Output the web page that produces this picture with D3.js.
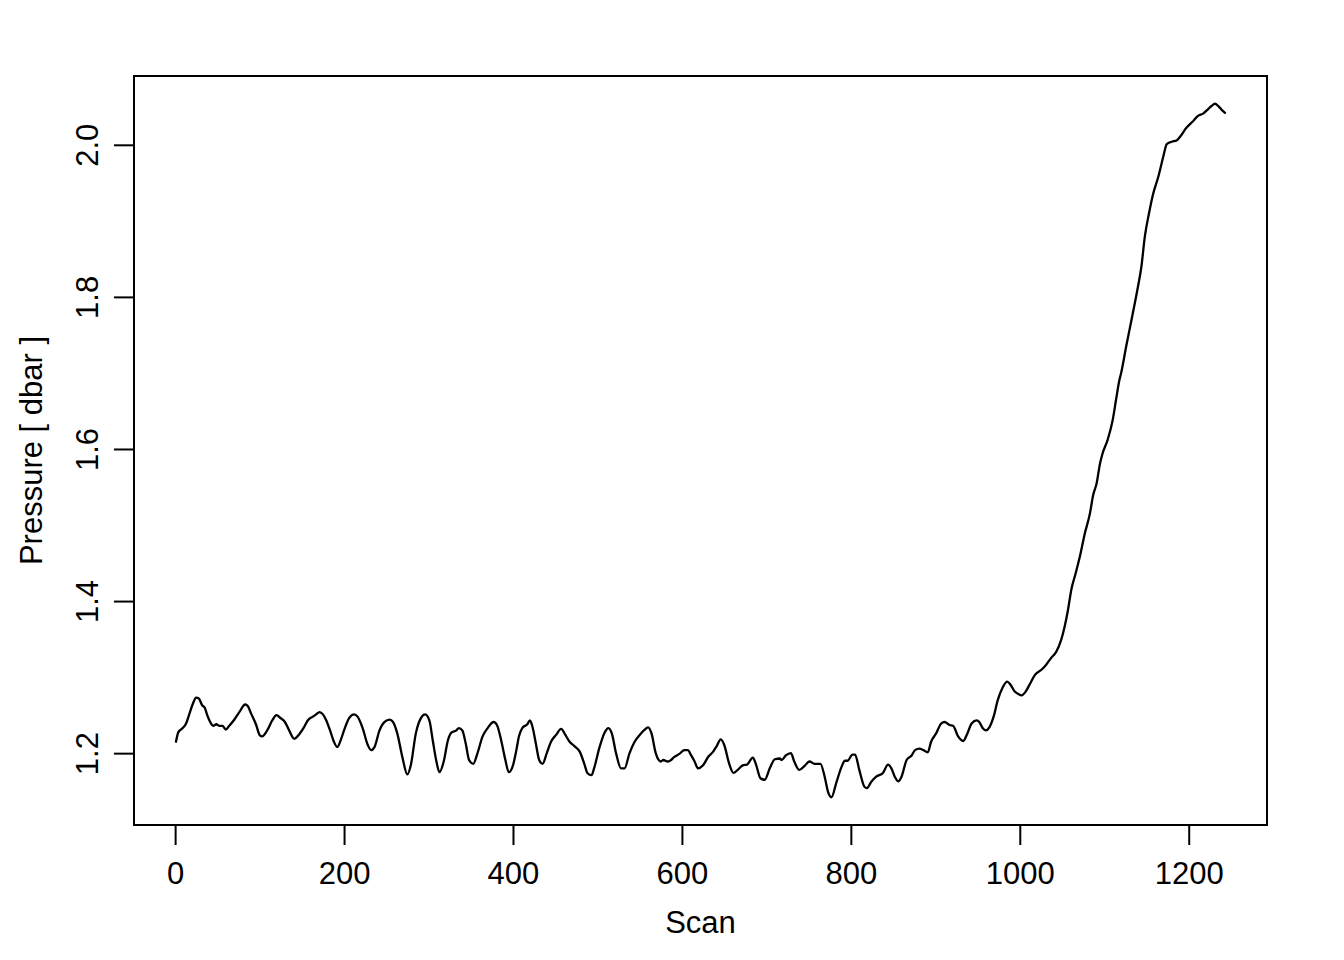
<!DOCTYPE html>
<html>
<head>
<meta charset="utf-8">
<script src="https://cdn.jsdelivr.net/npm/d3@7"></script>
<style>
  html, body { margin: 0; padding: 0; background: #fff; }
  svg { display: block; }
  text { font-family: "Liberation Sans", Arial, Helvetica, sans-serif; fill: #000; }
</style>
</head>
<body>
<svg id="chart" width="1344" height="960"></svg>
<script>
// ---- data ----
const scans = [
  1, 4, 9, 13, 17, 21, 25, 28, 32, 35, 38, 42, 45, 49, 52, 56, 60, 64, 70, 76,
  83, 86, 90, 96, 100, 103, 109, 115, 120, 125, 130, 135, 141, 147, 153, 157, 163, 167, 171, 175,
  179, 184, 188, 192, 196, 200, 206, 212, 216, 222, 228, 232, 236, 242, 248, 254, 258, 263, 269, 275,
  279, 285, 291, 296, 301, 305, 309, 313, 318, 323, 327, 333, 336, 340, 344, 348, 353, 358, 364, 370,
  377, 381, 386, 391, 395, 400, 404, 407, 411, 417, 420, 423, 427, 431, 435, 440, 445, 451, 457, 462,
  467, 473, 479, 485, 488, 493, 496, 502, 508, 513, 517, 522, 528, 532, 538, 544, 550, 556, 560, 564,
  569, 575, 578, 583, 586, 591, 597, 603, 607, 611, 615, 619, 625, 631, 637, 641, 646, 650, 656, 661,
  666, 672, 677, 684, 688, 693, 698, 704, 710, 716, 718, 723, 729, 733, 739, 745, 751, 757, 764, 769,
  773, 777, 783, 789, 793, 796, 802, 805, 810, 816, 819, 824, 830, 838, 844, 848, 852, 856, 860, 866,
  872, 876, 881, 886, 891, 895, 901, 907, 911, 917, 921, 927, 933, 938, 943, 949, 952, 956, 960, 964,
  969, 974, 980, 985, 989, 994, 998, 1002, 1007, 1012, 1018, 1026, 1031, 1037, 1043, 1049, 1053, 1057, 1061, 1066,
  1071, 1077, 1083, 1087, 1091, 1095, 1098, 1104, 1110, 1114, 1118, 1120, 1126, 1133, 1140, 1144, 1148, 1153, 1158, 1164,
  1170, 1174, 1180, 1186, 1190, 1197, 1205, 1211, 1217, 1223, 1227, 1231, 1235, 1239, 1243
];
const pressure = [
  1.215, 1.228, 1.233, 1.239, 1.252, 1.265, 1.273, 1.272, 1.263, 1.260, 1.250, 1.240, 1.236, 1.238, 1.236, 1.236, 1.231, 1.236, 1.244, 1.254,
  1.264, 1.262, 1.252, 1.237, 1.224, 1.222, 1.230, 1.243, 1.250, 1.246, 1.241, 1.230, 1.219, 1.225, 1.235, 1.243, 1.248, 1.251, 1.254, 1.251,
  1.243, 1.228, 1.215, 1.208, 1.217, 1.230, 1.246, 1.251, 1.248, 1.233, 1.211, 1.204, 1.208, 1.230, 1.241, 1.244, 1.241, 1.226, 1.195, 1.172,
  1.184, 1.226, 1.246, 1.251, 1.243, 1.217, 1.191, 1.175, 1.189, 1.217, 1.227, 1.230, 1.233, 1.230, 1.213, 1.191, 1.186, 1.200, 1.222, 1.233,
  1.241, 1.237, 1.217, 1.191, 1.175, 1.184, 1.204, 1.222, 1.233, 1.238, 1.243, 1.235, 1.213, 1.191, 1.186, 1.200, 1.215, 1.224, 1.232, 1.224,
  1.215, 1.209, 1.202, 1.184, 1.174, 1.171, 1.180, 1.206, 1.226, 1.233, 1.226, 1.200, 1.180, 1.180, 1.200, 1.215, 1.224, 1.231, 1.234, 1.226,
  1.200, 1.189, 1.191, 1.189, 1.190, 1.195, 1.199, 1.204, 1.204, 1.197, 1.189, 1.180, 1.184, 1.195, 1.202, 1.209, 1.218, 1.211, 1.186, 1.174,
  1.178, 1.184, 1.185, 1.194, 1.184, 1.167, 1.165, 1.180, 1.192, 1.193, 1.191, 1.197, 1.200, 1.189, 1.178, 1.183, 1.189, 1.186, 1.186, 1.169,
  1.149, 1.142, 1.162, 1.182, 1.190, 1.190, 1.198, 1.198, 1.178, 1.156, 1.154, 1.162, 1.169, 1.174, 1.185, 1.180, 1.169, 1.163, 1.169, 1.191,
  1.197, 1.204, 1.206, 1.204, 1.201, 1.215, 1.226, 1.239, 1.241, 1.237, 1.236, 1.222, 1.216, 1.226, 1.239, 1.243, 1.241, 1.233, 1.230, 1.234,
  1.248, 1.270, 1.287, 1.294, 1.290, 1.281, 1.278, 1.276, 1.281, 1.291, 1.303, 1.310, 1.316, 1.325, 1.333, 1.349, 1.366, 1.388, 1.415, 1.436,
  1.458, 1.489, 1.515, 1.540, 1.555, 1.581, 1.594, 1.612, 1.638, 1.665, 1.691, 1.700, 1.735, 1.774, 1.814, 1.840, 1.879, 1.910, 1.936, 1.958,
  1.985, 2.001, 2.004, 2.006, 2.011, 2.022, 2.031, 2.038, 2.041, 2.047, 2.051, 2.054, 2.051, 2.046, 2.042
];
const xTicks = [0, 200, 400, 600, 800, 1000, 1200];
const yTicks = [1.2, 1.4, 1.6, 1.8, 2.0];
const xTitle = "Scan";
const yTitle = "Pressure [ dbar ]";

// ---- layout ----
const W = 1344, H = 960;
const plot = { left: 134, right: 1267, top: 76, bottom: 825 };
const FONT = 31;

const svg = d3.select("#chart");
svg.append("rect").attr("width", W).attr("height", H).attr("fill", "#fff");

// R-style 4% padded ranges
function padded(ext) { const r = ext[1] - ext[0]; return [ext[0] - 0.04 * r, ext[1] + 0.04 * r]; }
const x = d3.scaleLinear().domain(padded(d3.extent(scans))).range([plot.left, plot.right]);
const y = d3.scaleLinear().domain(padded(d3.extent(pressure))).range([plot.bottom, plot.top]);

// data line
const pts = scans.map((s, i) => [s, pressure[i]]);
svg.append("path")
  .datum(pts)
  .attr("fill", "none")
  .attr("stroke", "#000")
  .attr("stroke-width", 2.3)
  .attr("stroke-linejoin", "round")
  .attr("stroke-linecap", "round")
  .attr("d", d3.line().curve(d3.curveMonotoneX).x(d => x(d[0])).y(d => y(d[1])));

// x axis
const gx = svg.append("g")
  .attr("transform", `translate(0,${plot.bottom})`)
  .call(d3.axisBottom(x).tickValues(xTicks).tickFormat(d3.format("d")).tickSize(20).tickSizeOuter(0).tickPadding(17));
gx.select(".domain").remove();
gx.selectAll(".tick line").attr("stroke", "#000").attr("stroke-width", 2);
gx.selectAll(".tick text").attr("font-size", FONT).attr("font-family", "Liberation Sans, Arial, sans-serif").attr("fill", "#000");

// y axis
const gy = svg.append("g")
  .attr("transform", `translate(${plot.left},0)`)
  .call(d3.axisLeft(y).tickValues(yTicks).tickFormat(d3.format(".1f")).tickSize(20).tickSizeOuter(0));
gy.select(".domain").remove();
gy.selectAll(".tick line").attr("stroke", "#000").attr("stroke-width", 2);
gy.selectAll(".tick text")
  .attr("font-size", FONT)
  .attr("font-family", "Liberation Sans, Arial, sans-serif")
  .attr("fill", "#000")
  .attr("x", null).attr("dy", null)
  .attr("text-anchor", "middle")
  .attr("transform", "translate(-36,0) rotate(-90)");

// box
svg.append("rect")
  .attr("x", plot.left).attr("y", plot.top)
  .attr("width", plot.right - plot.left).attr("height", plot.bottom - plot.top)
  .attr("fill", "none").attr("stroke", "#000").attr("stroke-width", 2);

// titles
svg.append("text")
  .attr("x", (plot.left + plot.right) / 2).attr("y", 933)
  .attr("text-anchor", "middle").attr("font-size", FONT)
  .text(xTitle);
svg.append("text")
  .attr("transform", `translate(42,${(plot.top + plot.bottom) / 2}) rotate(-90)`)
  .attr("text-anchor", "middle").attr("font-size", FONT)
  .text(yTitle);
</script>
</body>
</html>
